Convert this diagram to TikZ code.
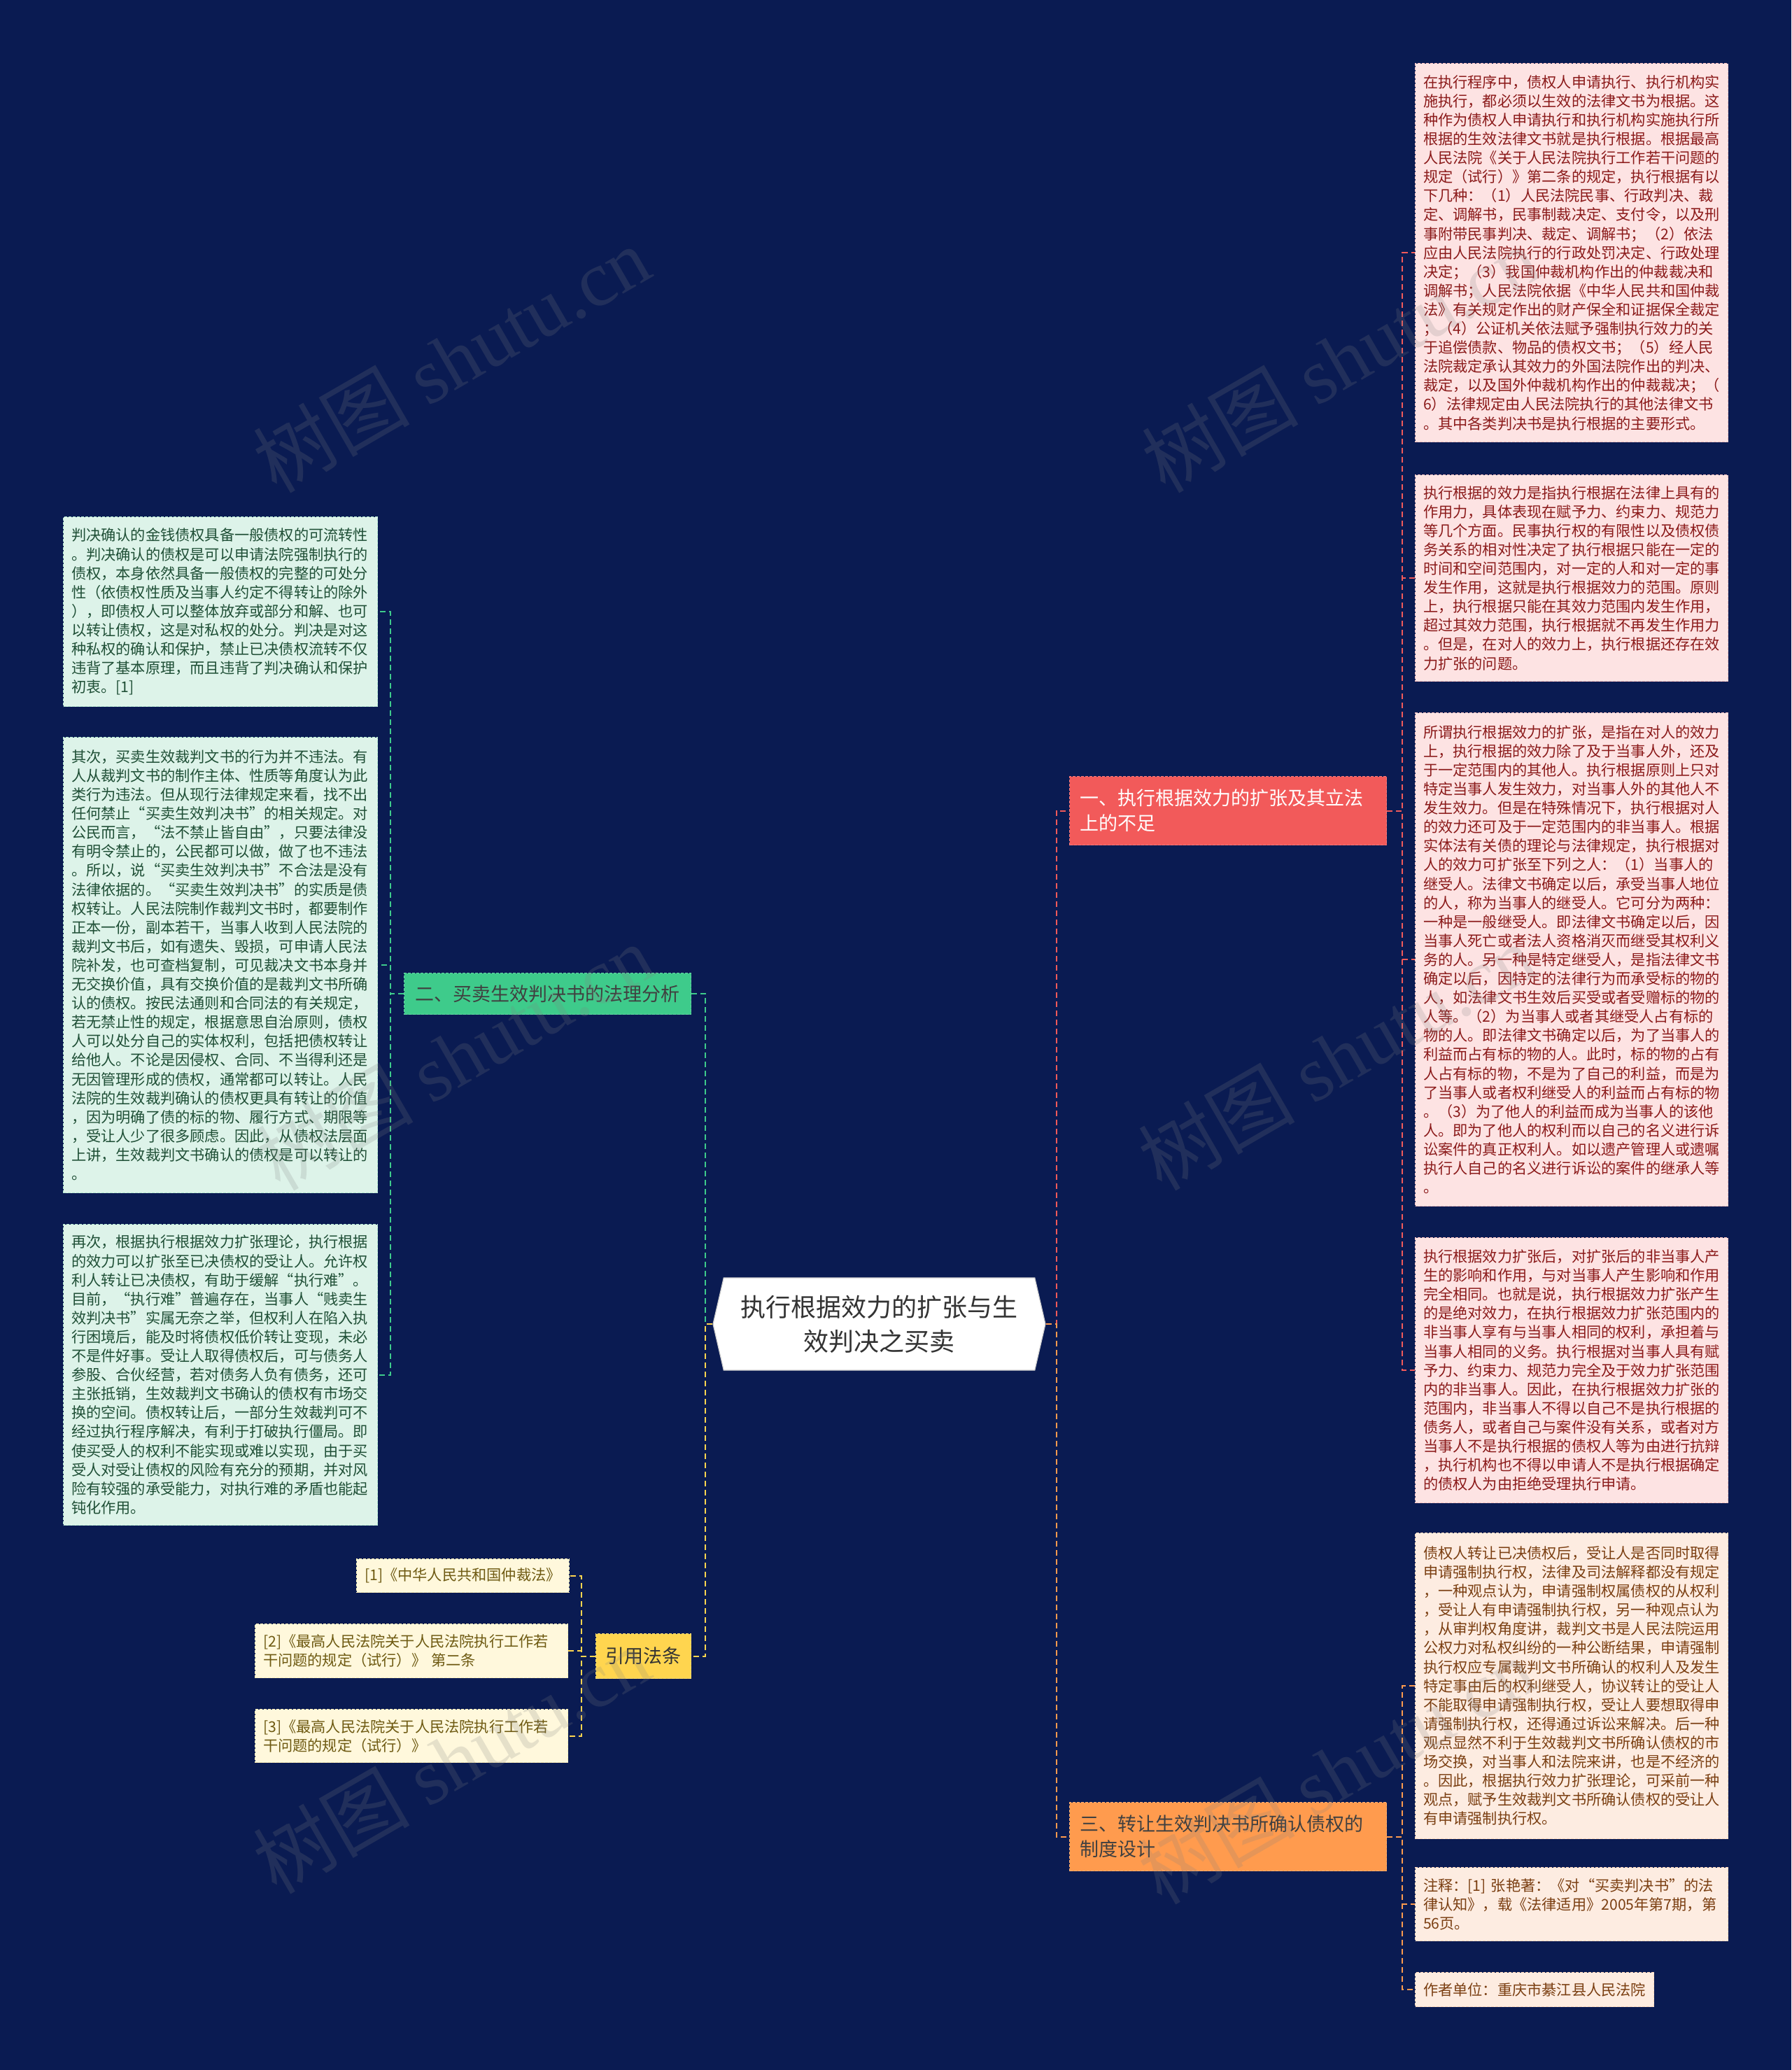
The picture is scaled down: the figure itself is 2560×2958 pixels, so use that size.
\documentclass[tikz,border=0pt]{standalone}
\usepackage{fontspec}
\setmainfont{Noto Sans CJK SC}
\newfontfamily\wmlatin{Liberation Serif}
\usetikzlibrary{shapes.symbols}
\definecolor{bgnavy}{RGB}{10,27,82}
\definecolor{pinkfill}{HTML}{FDE3E3}
\definecolor{pinktext}{HTML}{8B1A1A}
\definecolor{peachfill}{HTML}{FDECE1}
\definecolor{peachtext}{HTML}{7B3F12}
\definecolor{mintfill}{HTML}{DDF3E9}
\definecolor{minttext}{HTML}{1F4F36}
\definecolor{creamfill}{HTML}{FFF8DC}
\definecolor{creamtext}{HTML}{6E5A12}
\definecolor{redbr}{HTML}{F25A5A}
\definecolor{orangebr}{HTML}{FF9B4E}
\definecolor{greenbr}{HTML}{3ECB8B}
\definecolor{yellowbr}{HTML}{FFD54F}
\tikzset{
  leafbox/.style={anchor=north west, inner xsep=5.75pt, inner ysep=0pt, align=left,
    font=\fontsize{10.6pt}{13.55pt}\selectfont, dash pattern=on 2pt off 1pt, line width=0.6pt},
  pinkbox/.style={leafbox, fill=pinkfill, draw=pinkfill!75!redbr, text=pinktext},
  peachbox/.style={leafbox, fill=peachfill, draw=peachfill!75!orangebr, text=peachtext},
  mintbox/.style={leafbox, fill=mintfill, draw=mintfill!75!greenbr, text=minttext},
  creambox/.style={leafbox, fill=creamfill, draw=creamfill!75!yellowbr, text=creamtext},
  branchbox/.style={anchor=north west, inner sep=0pt, font=\fontsize{13.5pt}{18pt}\selectfont,
    dash pattern=on 2pt off 1pt, line width=0.6pt},
  link/.style={line width=1pt, dash pattern=on 4pt off 2.5pt},
  wmark/.style={text=gray, opacity=0.2, font=\fontsize{56pt}{60pt}\selectfont, rotate=30}
}
\begin{document}
\begin{tikzpicture}[x=0.5pt,y=-0.5pt]
\fill[bgnavy] (0,0) rectangle (2560,2958);
\useasboundingbox (0,0) rectangle (2560,2958);

% centre
\node[signal, signal to=west and east, signal pointer angle=154, fill=white, draw=gray!40,
  line width=0.6pt, minimum width=237.5pt, minimum height=66pt, inner sep=0pt, align=center,
  text=black!80, font=\fontsize{18pt}{24.5pt}\selectfont] (center) at (1256.5,1892)
  {执行根据效力的扩张与生\\效判决之买卖};

% branches
\node[branchbox, fill=redbr, draw=redbr!80!white, text=white, text width=211.5pt, align=left,
  inner xsep=7.5pt, minimum width=226.5pt, minimum height=49pt] (B1) at (1528,1109)
  {一、执行根据效力的扩张及其立法\\上的不足};
\node[branchbox, fill=orangebr, draw=orangebr!80!white, text=black!75, text width=211.5pt, align=left,
  inner xsep=7.5pt, minimum width=226.5pt, minimum height=49pt] (B3) at (1528,2575)
  {三、转让生效判决书所确认债权的\\制度设计};
\node[branchbox, fill=greenbr, draw=greenbr!80!white, text=black!75,
  minimum width=205pt, minimum height=29.5pt] (B2) at (577,1390)
  {二、买卖生效判决书的法理分析};
\node[branchbox, fill=yellowbr, draw=yellowbr!80!white, text=black!80,
  minimum width=68pt, minimum height=32pt] (B4) at (851,2334)
  {引用法条};

% right leaves (group 1)
\node[pinkbox, text width=212pt, minimum height=270.5pt] (R1) at (2022,90) {在执行程序中，债权人申请执行、执行机构实\\施执行，都必须以生效的法律文书为根据。这\\种作为债权人申请执行和执行机构实施执行所\\根据的生效法律文书就是执行根据。根据最高\\人民法院《关于人民法院执行工作若干问题的\\规定（试行）》第二条的规定，执行根据有以\\下几种：（1）人民法院民事、行政判决、裁\\定、调解书，民事制裁决定、支付令，以及刑\\事附带民事判决、裁定、调解书；（2）依法\\应由人民法院执行的行政处罚决定、行政处理\\决定；（3）我国仲裁机构作出的仲裁裁决和\\调解书；人民法院依据《中华人民共和国仲裁\\法》有关规定作出的财产保全和证据保全裁定\\；（4）公证机关依法赋予强制执行效力的关\\于追偿债款、物品的债权文书；（5）经人民\\法院裁定承认其效力的外国法院作出的判决、\\裁定，以及国外仲裁机构作出的仲裁裁决；（\\6）法律规定由人民法院执行的其他法律文书\\。其中各类判决书是执行根据的主要形式。};
\node[pinkbox, text width=212pt, minimum height=147.5pt] (R2) at (2022,678) {执行根据的效力是指执行根据在法律上具有的\\作用力，具体表现在赋予力、约束力、规范力\\等几个方面。民事执行权的有限性以及债权债\\务关系的相对性决定了执行根据只能在一定的\\时间和空间范围内，对一定的人和对一定的事\\发生作用，这就是执行根据效力的范围。原则\\上，执行根据只能在其效力范围内发生作用，\\超过其效力范围，执行根据就不再发生作用力\\。但是，在对人的效力上，执行根据还存在效\\力扩张的问题。};
\node[pinkbox, text width=212pt, minimum height=352.5pt] (R3) at (2022,1018) {所谓执行根据效力的扩张，是指在对人的效力\\上，执行根据的效力除了及于当事人外，还及\\于一定范围内的其他人。执行根据原则上只对\\特定当事人发生效力，对当事人外的其他人不\\发生效力。但是在特殊情况下，执行根据对人\\的效力还可及于一定范围内的非当事人。根据\\实体法有关债的理论与法律规定，执行根据对\\人的效力可扩张至下列之人：（1）当事人的\\继受人。法律文书确定以后，承受当事人地位\\的人，称为当事人的继受人。它可分为两种：\\一种是一般继受人。即法律文书确定以后，因\\当事人死亡或者法人资格消灭而继受其权利义\\务的人。另一种是特定继受人，是指法律文书\\确定以后，因特定的法律行为而承受标的物的\\人，如法律文书生效后买受或者受赠标的物的\\人等。（2）为当事人或者其继受人占有标的\\物的人。即法律文书确定以后，为了当事人的\\利益而占有标的物的人。此时，标的物的占有\\人占有标的物，不是为了自己的利益，而是为\\了当事人或者权利继受人的利益而占有标的物\\。（3）为了他人的利益而成为当事人的该他\\人。即为了他人的权利而以自己的名义进行诉\\讼案件的真正权利人。如以遗产管理人或遗嘱\\执行人自己的名义进行诉讼的案件的继承人等\\。};
\node[pinkbox, text width=212pt, minimum height=189.5pt] (R4) at (2022,1768) {执行根据效力扩张后，对扩张后的非当事人产\\生的影响和作用，与对当事人产生影响和作用\\完全相同。也就是说，执行根据效力扩张产生\\的是绝对效力，在执行根据效力扩张范围内的\\非当事人享有与当事人相同的权利，承担着与\\当事人相同的义务。执行根据对当事人具有赋\\予力、约束力、规范力完全及于效力扩张范围\\内的非当事人。因此，在执行根据效力扩张的\\范围内，非当事人不得以自己不是执行根据的\\债务人，或者自己与案件没有关系，或者对方\\当事人不是执行根据的债权人等为由进行抗辩\\，执行机构也不得以申请人不是执行根据确定\\的债权人为由拒绝受理执行申请。};

% right leaves (group 3)
\node[peachbox, text width=212pt, minimum height=218.5pt] (R5) at (2022,2190) {债权人转让已决债权后，受让人是否同时取得\\申请强制执行权，法律及司法解释都没有规定\\，一种观点认为，申请强制权属债权的从权利\\，受让人有申请强制执行权，另一种观点认为\\，从审判权角度讲，裁判文书是人民法院运用\\公权力对私权纠纷的一种公断结果，申请强制\\执行权应专属裁判文书所确认的权利人及发生\\特定事由后的权利继受人，协议转让的受让人\\不能取得申请强制执行权，受让人要想取得申\\请强制执行权，还得通过诉讼来解决。后一种\\观点显然不利于生效裁判文书所确认债权的市\\场交换，对当事人和法院来讲，也是不经济的\\。因此，根据执行效力扩张理论，可采前一种\\观点，赋予生效裁判文书所确认债权的受让人\\有申请强制执行权。};
\node[peachbox, text width=212pt, minimum height=52.5pt] (R6) at (2022,2668) {注释：[1] 张艳著：《对“买卖判决书”的法\\律认知》，载《法律适用》2005年第7期，第\\56页。};
\node[peachbox, minimum height=24.5pt] (R7) at (2022,2818) {作者单位：重庆市綦江县人民法院};

% left leaves
\node[mintbox, text width=213pt, minimum height=135.5pt] (L1) at (90,738) {判决确认的金钱债权具备一般债权的可流转性\\。判决确认的债权是可以申请法院强制执行的\\债权，本身依然具备一般债权的完整的可处分\\性（依债权性质及当事人约定不得转让的除外\\），即债权人可以整体放弃或部分和解、也可\\以转让债权，这是对私权的处分。判决是对这\\种私权的确认和保护，禁止已决债权流转不仅\\违背了基本原理，而且违背了判决确认和保护\\初衷。[1]};
\node[mintbox, text width=213pt, minimum height=325.5pt] (L2) at (90,1053) {其次，买卖生效裁判文书的行为并不违法。有\\人从裁判文书的制作主体、性质等角度认为此\\类行为违法。但从现行法律规定来看，找不出\\任何禁止“买卖生效判决书”的相关规定。对\\公民而言，“法不禁止皆自由”，只要法律没\\有明令禁止的，公民都可以做，做了也不违法\\。所以，说“买卖生效判决书”不合法是没有\\法律依据的。“买卖生效判决书”的实质是债\\权转让。人民法院制作裁判文书时，都要制作\\正本一份，副本若干，当事人收到人民法院的\\裁判文书后，如有遗失、毁损，可申请人民法\\院补发，也可查档复制，可见裁决文书本身并\\无交换价值，具有交换价值的是裁判文书所确\\认的债权。按民法通则和合同法的有关规定，\\若无禁止性的规定，根据意思自治原则，债权\\人可以处分自己的实体权利，包括把债权转让\\给他人。不论是因侵权、合同、不当得利还是\\无因管理形成的债权，通常都可以转让。人民\\法院的生效裁判确认的债权更具有转让的价值\\，因为明确了债的标的物、履行方式、期限等\\，受让人少了很多顾虑。因此，从债权法层面\\上讲，生效裁判文书确认的债权是可以转让的\\。};
\node[mintbox, text width=213pt, minimum height=215pt] (L3) at (90,1749) {再次，根据执行根据效力扩张理论，执行根据\\的效力可以扩张至已决债权的受让人。允许权\\利人转让已决债权，有助于缓解“执行难”。\\目前，“执行难”普遍存在，当事人“贱卖生\\效判决书”实属无奈之举，但权利人在陷入执\\行困境后，能及时将债权低价转让变现，未必\\不是件好事。受让人取得债权后，可与债务人\\参股、合伙经营，若对债务人负有债务，还可\\主张抵销，生效裁判文书确认的债权有市场交\\换的空间。债权转让后，一部分生效裁判可不\\经过执行程序解决，有利于打破执行僵局。即\\使买受人的权利不能实现或难以实现，由于买\\受人对受让债权的风险有充分的预期，并对风\\险有较强的承受能力，对执行难的矛盾也能起\\钝化作用。};

% citations
\node[creambox, minimum width=151pt, minimum height=24pt] (C1) at (509,2227) {[1]《中华人民共和国仲裁法》};
\node[creambox, text width=212pt, minimum height=38.5pt] (C2) at (364,2320) {[2]《最高人民法院关于人民法院执行工作若\\干问题的规定（试行）》 第二条};
\node[creambox, text width=212pt, minimum height=38pt] (C3) at (364,2442) {[3]《最高人民法院关于人民法院执行工作若\\干问题的规定（试行）》};

% connectors
\draw[link, redbr] (center.east) -- ++(15,0) |- (B1.west);
\draw[link, orangebr] (center.east) -- ++(15,0) |- (B3.west);
\draw[link, greenbr] (center.west) -- ++(-10,0) |- (B2.east);
\draw[link, yellowbr] (center.west) -- ++(-10,0) |- (B4.east);
\foreach \n in {R1,R2,R3,R4} \draw[link, redbr] (B1.east) -- ++(22,0) |- (\n.west);
\foreach \n in {R5,R6,R7} \draw[link, orangebr] (B3.east) -- ++(22,0) |- (\n.west);
\foreach \n in {L1,L2,L3} \draw[link, greenbr] (B2.west) -- ++(-19,0) |- (\n.east);
\foreach \n in {C1,C2,C3} \draw[link, yellowbr] (B4.west) -- ++(-20,0) |- (\n.east);

% watermarks
\node[wmark] (wm1) at (645,513) {树图 {\wmlatin shutu.cn}};
\node[wmark] (wm2) at (1915,513) {树图 {\wmlatin shutu.cn}};
\node[wmark] (wm3) at (650,1510) {树图 {\wmlatin shutu.cn}};
\node[wmark] (wm4) at (1910,1510) {树图 {\wmlatin shutu.cn}};
\node[wmark] (wm5) at (645,2515) {树图 {\wmlatin shutu.cn}};
\node[wmark] (wm6) at (1910,2530) {树图 {\wmlatin shutu.cn}};
\end{tikzpicture}
\end{document}
